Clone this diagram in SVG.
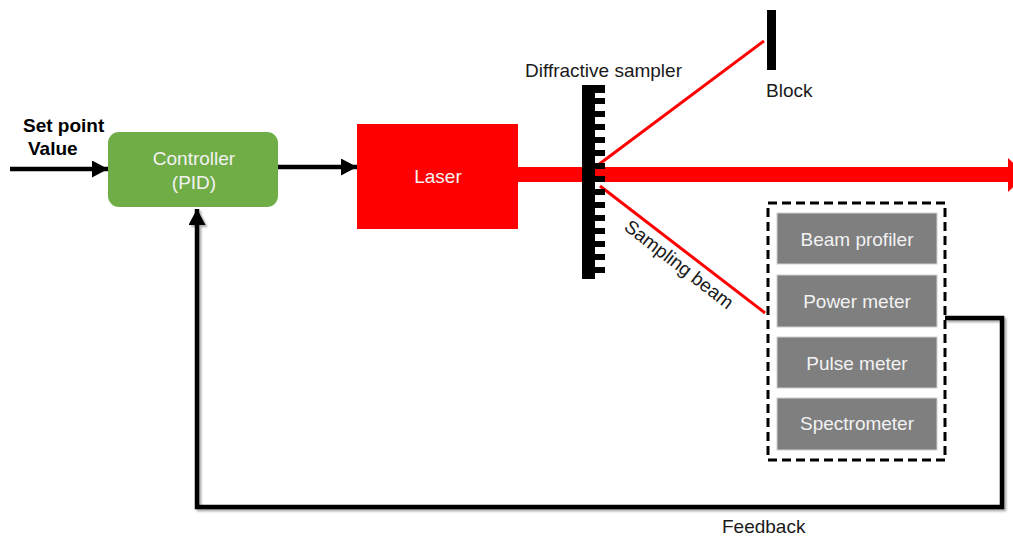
<svg xmlns="http://www.w3.org/2000/svg" width="1013" height="537" viewBox="0 0 1013 537">
<style>
text{font-family:"Liberation Sans",Arial,sans-serif;font-size:19px}
.lbl{fill:#1a1a1a}
.inner{fill:#F2F2F2;text-anchor:middle}
.bold{font-weight:bold;fill:#000}
.wire{fill:none;stroke:#000;stroke-width:4.5}
.ray{fill:none;stroke:#FF0000;stroke-width:3}
.meter{fill:#7F7F7F;stroke:#D0D0D0;stroke-width:1}
</style>
<defs>
<marker id="ah" markerUnits="userSpaceOnUse" markerWidth="17" markerHeight="17" refX="16" refY="8.5" orient="auto">
<path d="M0,0 L16,8.5 L0,17 z" fill="#000"/>
</marker>
<filter id="sh" x="-5%" y="-5%" width="110%" height="110%">
<feDropShadow dx="2" dy="2" stdDeviation="1.2" flood-color="#000" flood-opacity="0.35"/>
</filter>
</defs>

<g id="connectors">
<line class="wire" x1="10" y1="169" x2="108" y2="169" marker-end="url(#ah)"/>
<line class="wire" x1="278" y1="167" x2="357" y2="167" marker-end="url(#ah)"/>
<polyline class="wire" filter="url(#sh)" points="945,318 1002,318 1002,507 197,507 197,209" marker-end="url(#ah)"/>
<rect x="518" y="167" width="492" height="15" fill="#FF0000"/>
<polygon points="1008,158 1026,175 1008,192" fill="#FF0000"/>
<line class="ray" x1="598" y1="165" x2="764" y2="41"/>
<line class="ray" x1="600" y1="186" x2="765" y2="313"/>
</g>

<g id="set-point">
<text class="bold" x="23" y="132">Set point</text>
<text class="bold" x="28" y="155">Value</text>
</g>

<g id="controller">
<rect x="108" y="132" width="170" height="75" rx="11" fill="#70AD47"/>
<text class="inner" x="194" y="165">Controller</text>
<text class="inner" x="194" y="189">(PID)</text>
</g>

<g id="laser">
<rect x="357" y="124" width="161" height="105" fill="#FF0000"/>
<text class="inner" x="438" y="183" fill="#FFF0F0">Laser</text>
</g>

<g id="sampler">
<rect x="582" y="85" width="13" height="194" fill="#000"/>
<g fill="#000">
<rect x="594" y="85" width="11" height="8"/>
<rect x="594" y="98" width="11" height="6"/>
<rect x="594" y="111" width="11" height="6"/>
<rect x="594" y="124" width="11" height="6"/>
<rect x="594" y="137" width="11" height="6"/>
<rect x="594" y="150" width="11" height="6"/>
<rect x="594" y="163" width="11" height="6"/>
<rect x="594" y="176" width="11" height="6"/>
<rect x="594" y="189" width="11" height="6"/>
<rect x="594" y="202" width="11" height="6"/>
<rect x="594" y="215" width="11" height="6"/>
<rect x="594" y="228" width="11" height="6"/>
<rect x="594" y="241" width="11" height="6"/>
<rect x="594" y="254" width="11" height="6"/>
<rect x="594" y="267" width="11" height="6"/>
</g>
<text class="lbl" x="525" y="77">Diffractive sampler</text>
</g>

<g id="block">
<rect x="767" y="10" width="9" height="60" fill="#000"/>
<text class="lbl" x="766" y="97">Block</text>
</g>

<g id="sampling-beam-label">
<text class="lbl" transform="translate(623,229) rotate(37.8)">Sampling beam</text>
</g>

<g id="instruments">
<rect x="768" y="203" width="177" height="257" fill="none" stroke="#000" stroke-width="3" stroke-dasharray="9 5"/>
<g id="beam-profiler"><rect class="meter" x="777" y="213" width="160" height="51"/><text class="inner" x="857" y="246">Beam profiler</text></g>
<g id="power-meter"><rect class="meter" x="777" y="275" width="160" height="52"/><text class="inner" x="857" y="308">Power meter</text></g>
<g id="pulse-meter"><rect class="meter" x="777" y="337" width="160" height="51"/><text class="inner" x="857" y="370">Pulse meter</text></g>
<g id="spectrometer"><rect class="meter" x="777" y="398" width="160" height="52"/><text class="inner" x="857" y="430">Spectrometer</text></g>
</g>

<g id="feedback-label">
<text class="lbl" x="722" y="533">Feedback</text>
</g>
</svg>
